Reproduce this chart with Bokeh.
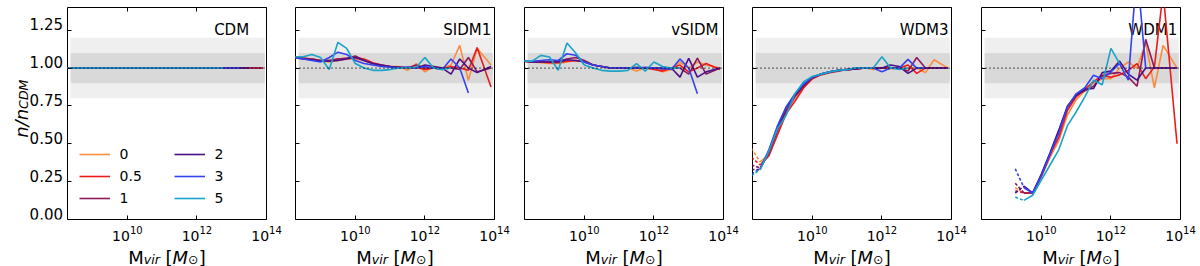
import math
from bokeh.plotting import figure
from bokeh.models import (Range1d, FixedTicker, LogAxis, Span, Label, Legend, LegendItem,
                          CustomJSTickFormatter)
from bokeh.core.properties import value
from bokeh.layouts import row, column
from bokeh.embed import file_html
from bokeh.resources import INLINE

NaN = float("nan")

# ---------------- data ----------------
log_mass = [8.25, 8.5, 8.75, 9.0, 9.25, 9.5, 9.75, 10.0, 10.25, 10.5, 10.75, 11.0,
            11.25, 11.5, 11.75, 12.0, 12.25, 12.5, 12.75, 13.0, 13.25, 13.5, 13.9]
redshifts = ["0", "0.5", "1", "2", "3", "5"]
colors = ["#fb8c3f", "#ec1c1c", "#8c1a5c", "#4c0f88", "#3443ee", "#1aa3c8"]
models = ["CDM", "SIDM1", "vSIDM", "WDM3", "WDM1"]
x_tick_exponents = [10, 12, 14]
y_ticks = [0.0, 0.25, 0.5, 0.75, 1.0, 1.25]
y_tick_labels = ["0.00", "0.25", "0.50", "0.75", "1.00", "1.25"]

cdm = [
    [1.0, 1.0, 1.0, 1.0, 1.0, 1.0, 1.0, 1.0, 1.0, 1.0, 1.0, 1.0, 1.0, 1.0, 1.0, 1.0, 1.0, 1.0, 1.0, 1.0, 1.0, 1.0, 1.0],
    [1.0, 1.0, 1.0, 1.0, 1.0, 1.0, 1.0, 1.0, 1.0, 1.0, 1.0, 1.0, 1.0, 1.0, 1.0, 1.0, 1.0, 1.0, 1.0, 1.0, 1.0, 1.0, 1.0],
    [1.0, 1.0, 1.0, 1.0, 1.0, 1.0, 1.0, 1.0, 1.0, 1.0, 1.0, 1.0, 1.0, 1.0, 1.0, 1.0, 1.0, 1.0, 1.0, 1.0, 1.0, 1.0, 1.0],
    [1.0, 1.0, 1.0, 1.0, 1.0, 1.0, 1.0, 1.0, 1.0, 1.0, 1.0, 1.0, 1.0, 1.0, 1.0, 1.0, 1.0, 1.0, 1.0, 1.0, 1.0, 1.0, NaN],
    [1.0, 1.0, 1.0, 1.0, 1.0, 1.0, 1.0, 1.0, 1.0, 1.0, 1.0, 1.0, 1.0, 1.0, 1.0, 1.0, 1.0, 1.0, 1.0, 1.0, 1.0, NaN, NaN],
    [1.0, 1.0, 1.0, 1.0, 1.0, 1.0, 1.0, 1.0, 1.0, 1.0, 1.0, 1.0, 1.0, 1.0, 1.0, 1.0, 1.0, 1.0, 1.0, NaN, NaN, NaN, NaN],
]
sidm1 = [
    [1.07, 1.065, 1.06, 1.05, 1.04, 1.05, 1.06, 1.06, 1.05, 1.03, 1.02, 1.01, 1.01, 0.985, 1.03, 0.975, 1.01, 1.0, 1.02, 1.15, 0.92, 1.13, 1.02],
    [1.07, 1.065, 1.06, 1.05, 1.05, 1.06, 1.065, 1.07, 1.06, 1.035, 1.02, 1.01, 1.005, 1.0, 1.005, 0.99, 1.0, 0.99, 1.01, 1.0, 0.985, 1.135, 0.875],
    [1.07, 1.065, 1.06, 1.05, 1.05, 1.06, 1.065, 1.08, 1.05, 1.03, 1.015, 1.01, 1.005, 1.0, 1.02, 1.0, 1.0, 1.0, 1.0, 0.99, 1.07, 0.975, 1.0],
    [1.07, 1.06, 1.055, 1.045, 1.045, 1.05, 1.06, 1.07, 1.05, 1.03, 1.02, 1.01, 1.005, 1.005, 1.0, 1.02, 1.01, 1.0, 0.96, 1.06, 1.0, 0.97, 1.01],
    [1.07, 1.06, 1.05, 1.04, 1.07, 1.105, 1.09, 1.05, 1.03, 1.02, 1.01, 1.005, 1.0, 1.005, 1.0, 1.01, 1.0, 0.99, 1.06, 1.0, 0.835, NaN, NaN],
    [1.075, 1.075, 1.09, 1.07, 0.99, 1.17, 1.13, 1.03, 1.0, 0.985, 0.985, 0.99, 1.0, 1.0, 1.005, 1.07, 1.0, 0.99, 1.0, NaN, NaN, NaN, NaN],
]
vsidm = [
    [1.045, 1.04, 1.035, 1.03, 1.03, 1.04, 1.05, 1.04, 1.02, 1.01, 1.0, 1.0, 1.0, 0.98, 1.0, 1.0, 0.975, 0.99, 1.04, 1.0, 1.04, 1.02, 1.0],
    [1.045, 1.04, 1.04, 1.035, 1.035, 1.045, 1.05, 1.045, 1.02, 1.01, 1.0, 1.0, 1.0, 1.0, 1.0, 0.99, 0.98, 1.0, 1.02, 0.975, 1.0, 1.03, 0.99],
    [1.045, 1.04, 1.04, 1.04, 1.045, 1.06, 1.07, 1.05, 1.02, 1.01, 1.0, 1.0, 1.0, 1.005, 1.0, 1.0, 1.0, 1.0, 1.0, 0.96, 1.065, 0.96, 1.0],
    [1.045, 1.04, 1.04, 1.04, 1.04, 1.055, 1.05, 1.04, 1.02, 1.01, 1.0, 1.0, 1.0, 1.0, 1.0, 1.0, 0.995, 1.0, 0.94, 1.065, 0.94, 0.975, 1.0],
    [1.045, 1.045, 1.05, 1.055, 1.05, 1.095, 1.085, 1.04, 1.02, 1.01, 1.0, 1.0, 1.0, 1.0, 1.005, 1.0, 1.0, 0.99, 1.06, 1.0, 0.83, NaN, NaN],
    [1.046, 1.046, 1.084, 1.073, 0.985, 1.166, 1.10, 1.02, 1.0, 0.985, 0.98, 0.98, 0.985, 1.03, 0.98, 1.04, 1.01, 1.0, 1.0, NaN, NaN, NaN, NaN],
]
wdm3 = [
    [0.47, 0.38, 0.43, 0.57, 0.71, 0.79, 0.87, 0.93, 0.96, 0.975, 0.985, 0.99, 0.995, 1.0, 0.99, 1.0, 0.995, 1.0, 1.0, 1.0, 0.97, 1.055, 1.0],
    [0.41, 0.36, 0.42, 0.56, 0.70, 0.78, 0.87, 0.93, 0.955, 0.97, 0.98, 0.99, 0.995, 1.0, 1.0, 1.0, 1.0, 1.0, 1.02, 0.965, 1.0, 1.0, 1.0],
    [0.36, 0.34, 0.44, 0.59, 0.72, 0.81, 0.88, 0.935, 0.96, 0.975, 0.985, 0.99, 0.995, 1.0, 1.0, 1.0, 1.0, 1.0, 0.98, 1.07, 1.0, 1.0, 1.0],
    [0.33, 0.33, 0.45, 0.60, 0.74, 0.82, 0.89, 0.94, 0.96, 0.975, 0.985, 0.99, 0.995, 1.0, 1.0, 1.0, 1.02, 1.01, 0.965, 1.0, 1.0, 1.0, 1.0],
    [0.30, 0.335, 0.46, 0.62, 0.745, 0.83, 0.895, 0.94, 0.96, 0.975, 0.985, 0.99, 1.0, 1.0, 1.0, 0.975, 1.0, 1.0, 1.057, 1.0, 1.0, NaN, NaN],
    [0.29, 0.33, 0.45, 0.60, 0.69, 0.83, 0.91, 0.945, 0.96, 0.975, 0.985, 0.99, 1.0, 1.0, 1.0, 1.075, 1.0, 0.99, 1.0, NaN, NaN, NaN, NaN],
]
wdm1 = [
    [NaN, NaN, NaN, NaN, 0.21, 0.175, 0.175, 0.28, 0.41, 0.52, 0.69, 0.79, 0.85, 0.90, 0.93, 0.93, 1.0, 1.04, 1.0, 1.165, 0.87, 1.15, 1.0],
    [NaN, NaN, NaN, NaN, 0.19, 0.175, 0.175, 0.29, 0.43, 0.54, 0.72, 0.81, 0.86, 0.91, 0.95, 0.94, 0.955, 0.985, 1.03, 0.93, 1.008, 1.5, 0.5],
    [NaN, NaN, NaN, NaN, 0.24, 0.175, 0.175, 0.29, 0.43, 0.58, 0.74, 0.82, 0.85, 0.88, 0.95, 0.965, 0.97, 0.94, 0.88, 1.19, 1.0, 1.0, 1.0],
    [NaN, NaN, NaN, NaN, 0.175, 0.22, 0.175, 0.30, 0.44, 0.59, 0.75, 0.82, 0.86, 0.865, 0.97, 0.98, 1.046, 0.96, 0.92, 1.0, 1.0, 1.0, 1.0],
    [NaN, NaN, NaN, NaN, 0.335, 0.21, 0.175, 0.29, 0.43, 0.57, 0.745, 0.83, 0.87, 0.953, 0.93, 0.975, 1.03, 0.92, 1.65, 1.0, NaN, NaN, NaN],
    [NaN, NaN, NaN, NaN, 0.148, 0.126, 0.16, 0.26, 0.36, 0.46, 0.62, 0.71, 0.81, 0.92, 0.89, 1.13, 1.03, NaN, NaN, NaN, NaN, NaN, NaN],
]
panel_data = [cdm, sidm1, vsidm, wdm3, wdm1]
# below this log-mass the curves are shown dashed (unresolved)
dashed_below = [None, None, None, 8.5, 9.5]

band_outer = (0.8, 1.2)
band_inner = (0.9, 1.1)
band_logx = (8.37, 13.95)

# ---------------- layout ----------------
x_lo_log = 8.28
x_hi_log = 14.0
y_lo, y_hi = 0.0, 1.4
frame_w = 199
frame_h = 212
border_top = 7
border_bottom = 6
fig_h = border_top + frame_h + border_bottom
ystrip_w = 65
xstrip_h = 266 - fig_h
border_left = [2, 12, 13, 12, 13]
border_right = [17, 17, 17, 17, 18]
title_right = [181.6, 195.7, 194.0, 196.0, 195.7]   # px from frame left
title_base = 189.5                                    # px above frame bottom
FONT = "DejaVu Sans"

mass = [10 ** m for m in log_mass]
x_ticks = [10.0 ** e for e in x_tick_exponents]
blank = CustomJSTickFormatter(code="return ''")


def add_pieces(p, pieces, x0, y0, angle=0.0):
    """Place a sequence of text pieces (text, size, style, shift, advance)."""
    pos = 0.0
    for text, size, style, shift, adv in pieces:
        if angle == 0.0:
            x, y = x0 + pos, y0 - shift
        else:
            x, y = x0 + shift, y0 + pos
        p.add_layout(Label(x=x, y=y, x_units="screen", y_units="screen", text=text,
                           text_font=FONT, text_font_size=f"{size}px", text_font_style=style,
                           text_color="black", text_align="left", text_baseline="alphabetic",
                           angle=angle))
        pos += adv


def style_ticks(ax):
    ax.formatter = blank
    ax.major_label_text_font_size = "1px"
    ax.major_label_standoff = 0
    ax.major_tick_in = 4
    ax.major_tick_out = 0
    ax.minor_tick_in = 0
    ax.minor_tick_out = 0
    ax.axis_line_color = None
    ax.major_tick_line_color = "black"


def strip(w, h):
    s = figure(width=w, height=h, x_range=Range1d(0, w), y_range=Range1d(0, h),
               output_backend="svg", toolbar_location=None, min_border=0,
               x_axis_location=None, y_axis_location=None)
    s.outline_line_color = None
    s.grid.visible = False
    s.background_fill_color = "white"
    s.border_fill_color = "white"
    return s


figs = []
cdm_renderers = []
for k, name in enumerate(models):
    p = figure(width=border_left[k] + frame_w + border_right[k], height=fig_h,
               x_axis_type="log", x_range=Range1d(10 ** x_lo_log, 10 ** x_hi_log),
               y_range=Range1d(y_lo, y_hi), output_backend="svg", toolbar_location=None,
               min_border_left=border_left[k], min_border_right=border_right[k],
               min_border_top=border_top, min_border_bottom=border_bottom)
    p.grid.visible = False
    p.outline_line_color = "black"
    p.outline_line_width = 1
    p.outline_line_alpha = 1
    p.background_fill_color = "white"
    p.border_fill_color = "white"

    # inward ticks; tick labels are written in the strips beside the panels
    xa = p.xaxis[0]
    xa.ticker = FixedTicker(ticks=x_ticks, minor_ticks=[])
    style_ticks(xa)
    ya = p.yaxis[0]
    ya.ticker = FixedTicker(ticks=y_ticks, minor_ticks=[])
    style_ticks(ya)
    top = LogAxis(ticker=FixedTicker(ticks=x_ticks, minor_ticks=[]))
    style_ticks(top)
    p.add_layout(top, "above")

    # bands and reference line
    p.quad(left=[10 ** band_logx[0]], right=[10 ** band_logx[1]], bottom=[band_outer[0]],
           top=[band_outer[1]], fill_color="#efefef", line_color=None)
    p.quad(left=[10 ** band_logx[0]], right=[10 ** band_logx[1]], bottom=[band_inner[0]],
           top=[band_inner[1]], fill_color="#d9d9d9", line_color=None)
    p.add_layout(Span(location=1.0, dimension="width", line_color="black",
                      line_dash="1 3", line_width=1.3))

    # panel title (drawn beneath the curves, as in the original)
    tx_log = x_lo_log + title_right[k] / frame_w * (x_hi_log - x_lo_log)
    ty = y_lo + title_base / frame_h * (y_hi - y_lo)
    p.text(x=[10 ** tx_log], y=[ty], text=[name], text_font=value(FONT),
           text_font_size="15px", text_color="black", text_align="right",
           text_baseline="alphabetic")

    # data
    cut = dashed_below[k]
    for j, z in enumerate(redshifts):
        vals = panel_data[k][j]
        if cut is None:
            r = p.line(mass, vals, line_color=colors[j], line_width=1.6)
        else:
            sx = [mm for mm, lm in zip(mass, log_mass) if lm >= cut]
            sy = [v for v, lm in zip(vals, log_mass) if lm >= cut]
            dx = [mm for mm, lm in zip(mass, log_mass) if lm <= cut]
            dy = [v for v, lm in zip(vals, log_mass) if lm <= cut]
            p.line(dx, dy, line_color=colors[j], line_width=1.6, line_dash="3 2")
            r = p.line(sx, sy, line_color=colors[j], line_width=1.6)
        if k == 0:
            cdm_renderers.append(r)

    if k == 0:
        leg_kw = dict(padding=0, margin=0, border_line_alpha=0, background_fill_alpha=0,
                      glyph_width=31, glyph_height=22, label_height=22, spacing=0,
                      label_standoff=10, label_text_font=FONT, label_text_font_size="14px",
                      label_text_color="black")
        leg1 = Legend(items=[LegendItem(label=redshifts[j], renderers=[cdm_renderers[j]])
                             for j in range(3)], location=(11.6, 9.7), **leg_kw)
        leg2 = Legend(items=[LegendItem(label=redshifts[j], renderers=[cdm_renderers[j]])
                             for j in range(3, 6)], location=(106.6, 9.7), **leg_kw)
        p.add_layout(leg1)
        p.add_layout(leg2)

    figs.append(p)

# frame left edges in page pixels
frame_left = []
xpos = ystrip_w
for k in range(len(models)):
    frame_left.append(xpos + border_left[k])
    xpos += border_left[k] + frame_w + border_right[k]
total_w = xpos

# left strip: y tick labels and the y axis label n/n_CDM
ystrip = strip(ystrip_w, fig_h)
for v, txt in zip(y_ticks, y_tick_labels):
    sy = border_top + (y_hi - v) / (y_hi - y_lo) * frame_h
    ystrip.add_layout(Label(x=frame_left[0] - 4.5, y=fig_h - sy, x_units="screen",
                            y_units="screen", text=txt, text_font=FONT,
                            text_font_size="15px", text_color="black", text_align="right",
                            text_baseline="middle"))
yl_pieces = [("n", 18, "italic", 0, 11.4), ("/", 18, "italic", 0, 6.1),
             ("n", 18, "italic", 0, 11.4), ("CDM", 12.6, "italic", 2.5, 29.4)]
add_pieces(ystrip, yl_pieces, 20.5, fig_h - 143.3, angle=math.pi / 2)

# bottom strip: x tick labels 10^e and the x axis label M_vir [M_sun]
xstrip = strip(total_w, xstrip_h)
xl_pieces = [("M", 18, "normal", 0, 15.5), ("vir", 12.6, "italic", 2.5, 16.1 + 5.7),
             ("[", 18, "normal", 0, 7.0), ("M", 18, "italic", 0, 15.5),
             ("\u2299", 12.6, "normal", 2.5, 10.6), ("]", 18, "normal", 0, 7.0)]
tick_base_px, tick_sup_px = 14, 10
base_w = 0.636 * 2 * tick_base_px
for k in range(len(models)):
    add_pieces(xstrip, xl_pieces, frame_left[k] + 60.8, xstrip_h - (256.5 - fig_h))
    for e in x_tick_exponents:
        tx = frame_left[k] + (e - x_lo_log) / (x_hi_log - x_lo_log) * frame_w
        sup_w = 0.636 * len(str(e)) * tick_sup_px
        x0 = tx - (base_w + sup_w) / 2
        xstrip.add_layout(Label(x=x0, y=266 - 235.5, x_units="screen", y_units="screen",
                                text="10", text_font=FONT, text_font_size=f"{tick_base_px}px",
                                text_color="black", text_align="left",
                                text_baseline="alphabetic"))
        xstrip.add_layout(Label(x=x0 + base_w, y=266 - 229.5, x_units="screen",
                                y_units="screen", text=str(e), text_font=FONT,
                                text_font_size=f"{tick_sup_px}px", text_color="black",
                                text_align="left", text_baseline="alphabetic"))

layout = column(row(ystrip, *figs), xstrip)
open("out.html", "w").write(file_html(layout, INLINE))
